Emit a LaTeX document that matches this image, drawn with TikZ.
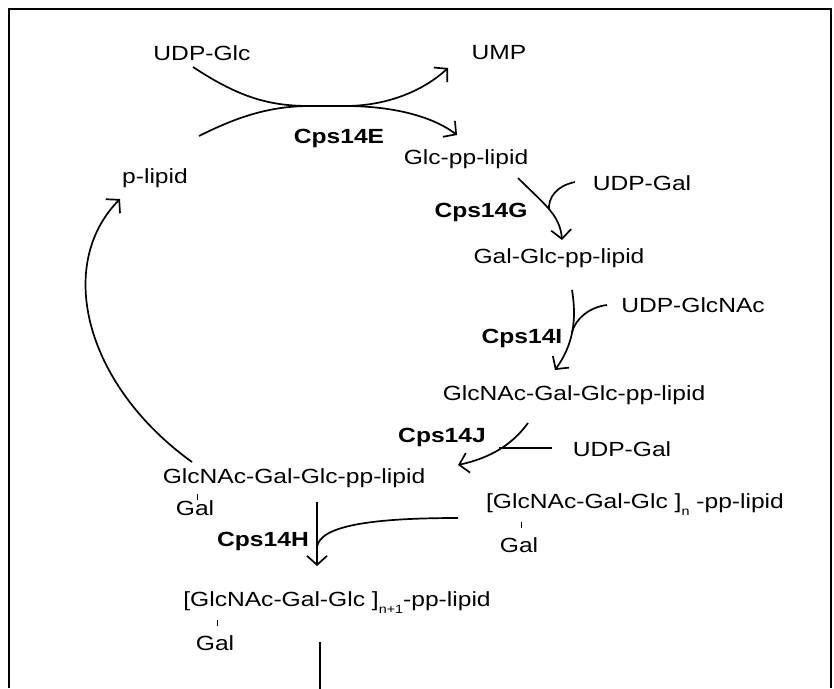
\documentclass[tikz,border=0pt]{standalone}
\usepackage{fontspec}
\setmainfont{Liberation Sans}[FakeStretch=1.2]
\usetikzlibrary{arrows.meta,calc}
\newcommand{\lowsub}[1]{\raisebox{-7pt}{\fontsize{12}{12}\selectfont #1}}
\begin{document}
\begin{tikzpicture}[x=1pt,y=-1pt,
  lbl/.style={inner sep=0pt, font=\fontsize{20.5}{24}\selectfont},
  enz/.style={inner sep=0pt, font=\fontsize{20.5}{24}\selectfont\bfseries},
  rxn/.style={line width=1.7pt, -{Straight Barb[length=9pt,width=20pt]}},
  ln/.style={line width=1.7pt},
  tickl/.style={line width=1pt}]
\useasboundingbox (0,0) rectangle (834,688);
\draw[line width=2.5pt] (9,688) -- (9,9) -- (831,9) -- (831,688);

\node[lbl] (udpglc) at (202,53) {UDP-Glc};
\node[lbl] (ump) at (499,53) {UMP};
\node[enz] (e) at (339,138) {Cps14E};
\node[lbl] (glcpp) at (466,159) {Glc-pp-lipid};
\node[lbl] (plipid) at (155,178) {p-lipid};
\node[lbl] (udpgal1) at (642,183) {UDP-Gal};
\node[enz] (g) at (481,212) {Cps14G};
\node[lbl] (galglc) at (559,258) {Gal-Glc-pp-lipid};
\node[lbl] (udpglcnac) at (693,305) {UDP-GlcNAc};
\node[enz] (i) at (522,338) {Cps14I};
\node[lbl] (tri) at (574,395) {GlcNAc-Gal-Glc-pp-lipid};
\node[enz] (j) at (442,437) {Cps14J};
\node[lbl] (udpgal2) at (622,449) {UDP-Gal};
\node[lbl] (tet) at (294,478) {GlcNAc-Gal-Glc-pp-lipid};
\node[lbl] (tetgal) at (195,508) {Gal};
\node[enz] (h) at (263,541) {Cps14H};
\node[lbl] (poly) at (635,505) {[GlcNAc-Gal-Glc ]\lowsub{n} -pp-lipid};
\node[lbl] (polygal) at (519,545) {Gal};
\node[lbl] (polyb) at (337,603) {[GlcNAc-Gal-Glc ]\lowsub{n+1}-pp-lipid};
\node[lbl] (polybgal) at (215,643) {Gal};

% Cps14E
\draw[rxn] ($(udpglc)+(-9,14)$) .. controls (240,98) and (270,106) .. (310,106)
  -- (345,106) .. controls (385,106) and (422,92) .. ($(ump)+(-51,15)$);
\draw[rxn] ($(plipid)+(44,-42)$) .. controls (235,118) and (268,106) .. (310,106)
  -- (345,106) .. controls (392,106) and (432,116) .. ($(glcpp)+(-9,-24)$);
% return to p-lipid
\draw[rxn] ($(tet)+(-102,-16)$) .. controls (85,385) and (55,265) .. ($(plipid)+(-35,21)$);
% Cps14G
\coordinate (gj) at (549,210);
\draw[rxn] ($(glcpp)+(52,19)$) .. controls (545,205) and (560,215) .. ($(galglc)+(3,-18)$);
\draw[ln] ($(udpgal1)+(-67,-1)$) .. controls (556,186) and (548,198) .. (gj);
% Cps14I
\coordinate (ij) at (572,332);
\draw[rxn] ($(galglc)+(13,32)$) .. controls (577,320) and (573,345) .. ($(tri)+(-19,-25)$);
\draw[ln] ($(udpglcnac)+(-86,0)$) .. controls (590,307) and (576,318) .. (ij);
% Cps14J
\coordinate (jj) at (499,448);
\draw[rxn] ($(tri)+(-46,28)$) .. controls (512,445) and (490,458) .. ($(tet)+(164,-13)$);
\draw[ln] ($(udpgal2)+(-70,-1)$) -- (jj);
% Cps14H
\coordinate (hj) at (317,547);
\draw[rxn] ($(tet)+(23,24)$) -- ($(polyb)+(-20,-37)$);
\draw[ln] ($(poly)+(-177,13)$) .. controls (370,518) and (320,526) .. (hj);
% bottom line
\coordinate (bot) at (320,690);
\draw[ln] ($(polyb)+(-17,39)$) -- (bot);
% ticks
\draw[tickl] ($(tetgal)+(2,-14)$) -- ($(tetgal)+(2,-8)$);
\draw[tickl] ($(polygal)+(2,-23)$) -- ($(polygal)+(2,-17)$);
\draw[tickl] ($(polybgal)+(2,-23)$) -- ($(polybgal)+(2,-17)$);
\end{tikzpicture}
\end{document}
